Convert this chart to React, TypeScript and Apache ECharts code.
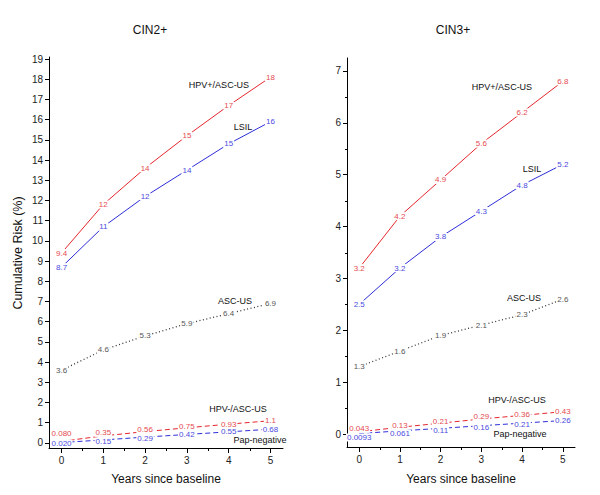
import React, { useEffect, useRef } from "react";
import * as echarts from "echarts";

const years = [0, 1, 2, 3, 4, 5];
const xTickValues = [0, 1, 2, 3, 4, 5];
const xMinorTickValues = [0.5, 1.5, 2.5, 3.5, 4.5];
const cin2TickValues = [0, 1, 2, 3, 4, 5, 6, 7, 8, 9, 10, 11, 12, 13, 14, 15, 16, 17, 18, 19];
const cin3TickValues = [0, 1, 2, 3, 4, 5, 6, 7];
const cin3MinorTickValues = [0.5, 1.5, 2.5, 3.5, 4.5, 5.5, 6.5];

// CIN2+
const cin2HpvPos = [9.4, 11.8, 13.6, 15.2, 16.7, 18.1];
const cin2HpvPosLabels = ["9.4", "12", "14", "15", "17", "18"];
const cin2Lsil = [8.7, 10.7, 12.2, 13.5, 14.8, 15.9];
const cin2LsilLabels = ["8.7", "11", "12", "14", "15", "16"];
const cin2AscUs = [3.6, 4.6, 5.3, 5.9, 6.4, 6.9];
const cin2AscUsLabels = ["3.6", "4.6", "5.3", "5.9", "6.4", "6.9"];
const cin2HpvNeg = [0.08, 0.35, 0.56, 0.75, 0.93, 1.1];
const cin2HpvNegLabels = ["0.080", "0.35", "0.56", "0.75", "0.93", "1.1"];
const cin2PapNeg = [0.02, 0.15, 0.29, 0.42, 0.55, 0.68];
const cin2PapNegLabels = ["0.020", "0.15", "0.29", "0.42", "0.55", "0.68"];

// CIN3+
const cin3HpvPos = [3.2, 4.2, 4.9, 5.6, 6.2, 6.8];
const cin3HpvPosLabels = ["3.2", "4.2", "4.9", "5.6", "6.2", "6.8"];
const cin3Lsil = [2.5, 3.2, 3.8, 4.3, 4.8, 5.2];
const cin3LsilLabels = ["2.5", "3.2", "3.8", "4.3", "4.8", "5.2"];
const cin3AscUs = [1.3, 1.6, 1.9, 2.1, 2.3, 2.6];
const cin3AscUsLabels = ["1.3", "1.6", "1.9", "2.1", "2.3", "2.6"];
const cin3HpvNeg = [0.043, 0.13, 0.21, 0.29, 0.36, 0.43];
const cin3HpvNegLabels = ["0.043", "0.13", "0.21", "0.29", "0.36", "0.43"];
const cin3PapNeg = [0.0093, 0.061, 0.11, 0.16, 0.21, 0.26];
const cin3PapNegLabels = ["0.0093", "0.061", "0.11", "0.16", "0.21", "0.26"];

const FONT = "'Liberation Sans', Arial, Helvetica, sans-serif";
const RED = "#e5262d";
const RED_LABEL = "#e44a50";
const BLUE = "#2d2dd8";
const BLUE_LABEL = "#4a4ae0";
const DOT = "#333333";
const DOT_LABEL = "#555555";

type SeriesSpec = {
  name: string;
  values: number[];
  labels: string[];
  grid: number;
  color: string;
  labelColor: string;
  lineType: any;
  width: number;
  offsets?: Array<[number, number]>;
};

function makeSeries(s: SeriesSpec) {
  return {
    type: "line",
    name: s.name,
    xAxisIndex: s.grid,
    yAxisIndex: s.grid,
    symbol: "circle",
    symbolSize: 1,
    itemStyle: { color: "transparent" },
    lineStyle: { color: s.color, width: s.width, type: s.lineType },
    data: years.map((x, i) => {
      const item: any = { value: [x, s.values[i]] };
      if (s.offsets && s.offsets[i]) {
        item.label = { offset: s.offsets[i] };
      }
      return item;
    }),
    label: {
      show: true,
      position: "inside",
      color: s.labelColor,
      fontSize: 8,
      fontFamily: FONT,
      backgroundColor: "#ffffff",
      padding: [0, 1],
      formatter: (p: any) => s.labels[p.dataIndex],
    },
    emphasis: { disabled: true },
    silent: true,
    z: 2,
  };
}

// minor ticks drawn through the axes' own scales
function minorXTicks(gridIndex: number) {
  return {
    type: "custom",
    xAxisIndex: gridIndex,
    yAxisIndex: gridIndex,
    silent: true,
    clip: false,
    z: 3,
    data: xMinorTickValues.map((v) => [v, 0]),
    renderItem: (params: any, api: any) => {
      const x = api.coord([api.value(0), 0])[0];
      const cs = params.coordSys;
      const y = cs.y + cs.height;
      return {
        type: "line",
        shape: { x1: Math.round(x) + 0.5, y1: y, x2: Math.round(x) + 0.5, y2: y + 3 },
        style: { stroke: "#000", lineWidth: 1 },
      };
    },
  };
}

function minorYTicks(gridIndex: number, values: number[]) {
  return {
    type: "custom",
    xAxisIndex: gridIndex,
    yAxisIndex: gridIndex,
    silent: true,
    clip: false,
    z: 3,
    data: values.map((v) => [0, v]),
    renderItem: (params: any, api: any) => {
      const y = api.coord([0, api.value(1)])[1];
      const cs = params.coordSys;
      const x = cs.x;
      return {
        type: "line",
        shape: { x1: x - 2, y1: Math.round(y) + 0.5, x2: x + 1, y2: Math.round(y) + 0.5 },
        style: { stroke: "#000", lineWidth: 1 },
      };
    },
  };
}

function mainXAxis(gridIndex: number) {
  return {
    type: "value",
    gridIndex,
    min: -0.3,
    max: 5.3,
    position: "bottom",
    axisLine: { show: true, onZero: false, lineStyle: { color: "#000", width: 1 } },
    axisTick: { show: true, customValues: xTickValues, length: 5, lineStyle: { color: "#000" } },
    axisLabel: {
      show: true,
      customValues: xTickValues,
      fontSize: 10,
      color: "#222",
      fontFamily: FONT,
      margin: 7,
    },
    splitLine: { show: false },
  };
}

export default function App() {
  const ref = useRef<HTMLDivElement>(null);

  useEffect(() => {
    if (!ref.current) return;
    const chart = echarts.init(ref.current, null, { renderer: "svg" });

    const specs: SeriesSpec[] = [
      { name: "CIN2 HPV+/ASC-US", values: cin2HpvPos, labels: cin2HpvPosLabels, grid: 0, color: RED, labelColor: RED_LABEL, lineType: "solid", width: 1 },
      { name: "CIN2 LSIL", values: cin2Lsil, labels: cin2LsilLabels, grid: 0, color: BLUE, labelColor: BLUE_LABEL, lineType: "solid", width: 1 },
      { name: "CIN2 ASC-US", values: cin2AscUs, labels: cin2AscUsLabels, grid: 0, color: DOT, labelColor: DOT_LABEL, lineType: [1, 2.5], width: 1.3 },
      {
        name: "CIN2 HPV-/ASC-US", values: cin2HpvNeg, labels: cin2HpvNegLabels, grid: 0, color: RED, labelColor: RED_LABEL, lineType: [5, 3], width: 1,
        offsets: [[0, -8], [0, -3], [0, -2], [0, -1], [0, 0], [0, 0]],
      },
      {
        name: "CIN2 Pap-negative", values: cin2PapNeg, labels: cin2PapNegLabels, grid: 0, color: BLUE, labelColor: BLUE_LABEL, lineType: [5, 3], width: 1,
        offsets: [[0, 1], [0, 2], [0, 1], [0, 0], [0, 0], [0, 0]],
      },
      { name: "CIN3 HPV+/ASC-US", values: cin3HpvPos, labels: cin3HpvPosLabels, grid: 1, color: RED, labelColor: RED_LABEL, lineType: "solid", width: 1 },
      { name: "CIN3 LSIL", values: cin3Lsil, labels: cin3LsilLabels, grid: 1, color: BLUE, labelColor: BLUE_LABEL, lineType: "solid", width: 1 },
      { name: "CIN3 ASC-US", values: cin3AscUs, labels: cin3AscUsLabels, grid: 1, color: DOT, labelColor: DOT_LABEL, lineType: [1, 2.5], width: 1.3 },
      {
        name: "CIN3 HPV-/ASC-US", values: cin3HpvNeg, labels: cin3HpvNegLabels, grid: 1, color: RED, labelColor: RED_LABEL, lineType: [5, 3], width: 1,
        offsets: [[0, -3], [0, -2], [0, -2], [0, -2], [0, -1], [0, 0]],
      },
      {
        name: "CIN3 Pap-negative", values: cin3PapNeg, labels: cin3PapNegLabels, grid: 1, color: BLUE, labelColor: BLUE_LABEL, lineType: [5, 3], width: 1,
        offsets: [[0, 4], [0, 3], [0, 2], [0, 2], [0, 1], [0, 0]],
      },
    ];

    const text = (t: string, x: number, y: number, size: number, extra: any = {}) => ({
      type: "text",
      x,
      y,
      silent: true,
      ...extra,
      style: {
        text: t,
        fill: "#111",
        font: `${size}px ${FONT}`,
        align: "center",
        verticalAlign: "middle",
        textAlign: "center",
        textVerticalAlign: "middle",
      },
    });

    const option: any = {
      animation: false,
      backgroundColor: "#ffffff",
      textStyle: { fontFamily: FONT },
      grid: [
        { left: 49, top: 57, width: 234, height: 391 },
        { left: 347, top: 58, width: 228, height: 389 },
      ],
      xAxis: [mainXAxis(0), mainXAxis(1)],
      yAxis: [
        {
          type: "value",
          gridIndex: 0,
          min: -0.25,
          max: 19.1,
          position: "left",
          axisLine: { show: true, onZero: false, lineStyle: { color: "#000", width: 1 } },
          axisTick: { show: true, customValues: cin2TickValues, length: 4, lineStyle: { color: "#000" } },
          axisLabel: { show: true, customValues: cin2TickValues, fontSize: 10, color: "#222", fontFamily: FONT, margin: 6 },
          splitLine: { show: false },
        },
        {
          type: "value",
          gridIndex: 1,
          min: -0.25,
          max: 7.25,
          position: "left",
          axisLine: { show: true, onZero: false, lineStyle: { color: "#000", width: 1 } },
          axisTick: { show: true, customValues: cin3TickValues, length: 4, lineStyle: { color: "#000" } },
          axisLabel: { show: true, customValues: cin3TickValues, fontSize: 10, color: "#222", fontFamily: FONT, margin: 6 },
          splitLine: { show: false },
        },
      ],
      series: [
        ...specs.map(makeSeries),
        minorXTicks(0),
        minorXTicks(1),
        minorYTicks(1, cin3MinorTickValues),
      ],
      graphic: [
        text("CIN2+", 150, 30, 12),
        text("CIN3+", 453, 30, 12),
        text("Years since baseline", 166, 479, 12),
        text("Years since baseline", 461, 479, 12),
        text("Cumulative Risk (%)", 18, 253, 12.5, { rotation: Math.PI / 2 }),
        text("HPV+/ASC-US", 219, 85, 9),
        text("LSIL", 243, 127, 9),
        text("ASC-US", 235, 301, 9),
        text("HPV-/ASC-US", 238, 409, 9),
        text("Pap-negative", 260, 440, 9),
        text("HPV+/ASC-US", 502, 87, 9),
        text("LSIL", 532, 169, 9),
        text("ASC-US", 524, 298, 9),
        text("HPV-/ASC-US", 517, 400, 9),
        text("Pap-negative", 520, 434, 9),
      ],
    };

    chart.setOption(option);
    return () => {
      chart.dispose();
    };
  }, []);

  return (
    <div
      ref={ref}
      style={{ position: "fixed", left: 0, top: 0, width: 600, height: 495, background: "#fff" }}
    />
  );
}
